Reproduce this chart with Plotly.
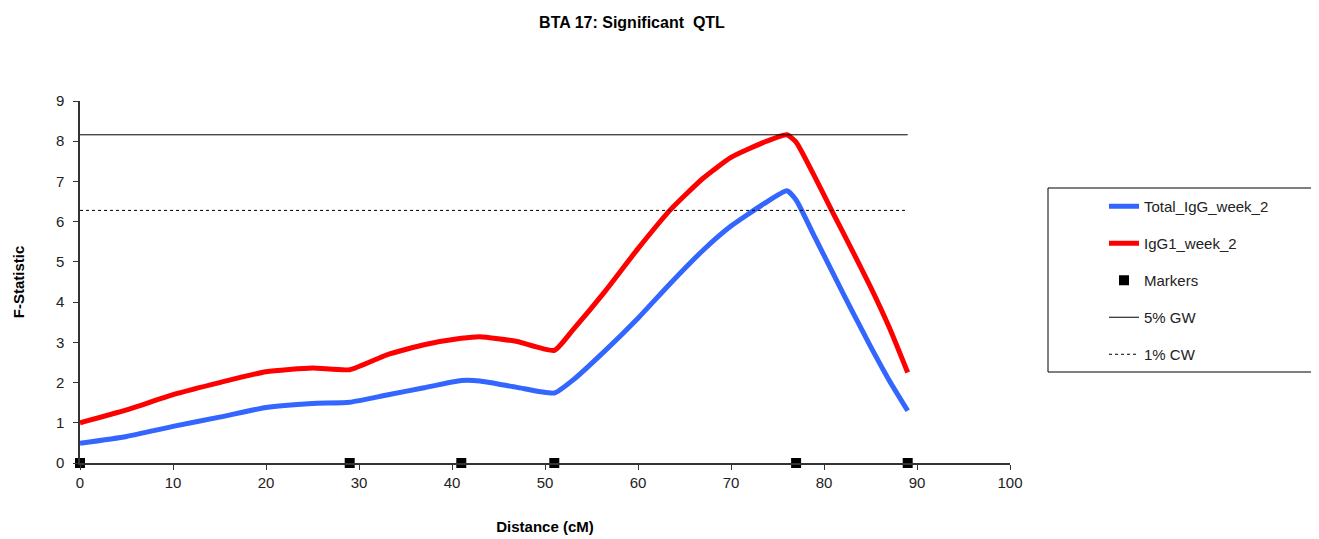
import plotly.graph_objects as go

# distance along BTA 17 (cM) at which the F-statistic profile was read
distance = [0, 5, 10, 15, 20, 25, 29, 33, 37, 41, 43, 47, 51, 53, 56.5, 60,
            63.5, 67, 70, 73.5, 76, 77, 79, 81, 83, 85, 87, 89]
total_igg_week_2 = [0.49, 0.66, 0.91, 1.14, 1.38, 1.48, 1.51, 1.69, 1.87, 2.05,
                    2.04, 1.88, 1.74, 2.06, 2.80, 3.60, 4.47, 5.29, 5.89, 6.44,
                    6.77, 6.54, 5.62, 4.70, 3.79, 2.90, 2.06, 1.30]
igg1_week_2 = [1.00, 1.32, 1.70, 2.00, 2.27, 2.36, 2.32, 2.69, 2.94, 3.10,
               3.14, 3.02, 2.80, 3.31, 4.28, 5.33, 6.30, 7.08, 7.60, 7.97,
               8.16, 7.98, 7.12, 6.20, 5.30, 4.38, 3.38, 2.25]

marker_pos = [0, 29, 41, 51, 77, 89]
marker_val = [0, 0, 0, 0, 0, 0]

threshold_x = [0, 89]
gw_5pct = [8.16, 8.16]
cw_1pct = [6.28, 6.28]

font = "Arial, Liberation Sans, sans-serif"
W, H = 1311, 531  # page body adds an 8px margin
L, R, T, B = 72, 309, 93, 76
pw, ph = W - L - R, H - T - B

fig = go.Figure()
fig.add_trace(go.Scatter(x=distance, y=total_igg_week_2, mode="lines",
                         name="Total_IgG_week_2", legendgroup="a",
                         line=dict(color="#3366ff", width=5,
                                   shape="spline", smoothing=0.5)))
fig.add_trace(go.Scatter(x=distance, y=igg1_week_2, mode="lines",
                         name="IgG1_week_2", legendgroup="b",
                         line=dict(color="#ff0000", width=5,
                                   shape="spline", smoothing=0.5)))
fig.add_trace(go.Scatter(x=marker_pos, y=marker_val, mode="markers",
                         name="Markers", legendgroup="c", cliponaxis=False,
                         marker=dict(symbol="square", size=10, color="black")))
fig.add_trace(go.Scatter(x=threshold_x, y=gw_5pct, mode="lines",
                         name="5% GW", legendgroup="d",
                         line=dict(color="black", width=1)))
fig.add_trace(go.Scatter(x=threshold_x, y=cw_1pct, mode="lines",
                         name="1% CW", legendgroup="e",
                         line=dict(color="black", width=1, dash="dot")))

# frame around the legend (plotly caps the legend box width)
fig.add_shape(type="rect", xref="paper", yref="paper",
              x0=(1040 - L) / pw, x1=(1307 - L) / pw,
              y0=(H - B - 364) / ph, y1=(H - B - 180) / ph,
              line=dict(color="black", width=1))

fig.update_layout(
    width=W, height=H,
    margin=dict(l=L, r=R, t=T, b=B),
    paper_bgcolor="white", plot_bgcolor="white",
    font=dict(family=font, size=15, color="#222"),
    title=dict(text="<b>BTA 17: Significant  QTL</b>", x=624 / W,
               xref="container", xanchor="center", y=1 - 14 / H,
               yref="container", yanchor="middle",
               font=dict(size=16, color="black")),
    legend=dict(xref="container", yref="container", x=1040 / W,
                y=1 - 182 / H, xanchor="left", yanchor="top",
                borderwidth=0, bgcolor="rgba(0,0,0,0)",
                tracegroupgap=14.5, indentation=56,
                font=dict(size=15, color="#222")),
    showlegend=True,
)
fig.update_xaxes(range=[0, 100], tickvals=list(range(0, 101, 10)),
                 automargin=False,
                 showgrid=False, zeroline=False, showline=True,
                 linecolor="#333", linewidth=1.5, ticks="outside",
                 ticklen=5, tickcolor="#333",
                 title=dict(text="<b>Distance (cM)</b>", standoff=32,
                            font=dict(size=15, color="black")))
fig.update_yaxes(range=[0, 9], tickvals=list(range(0, 10)),
                 automargin=False,
                 showgrid=False, zeroline=False, showline=True,
                 linecolor="#333", linewidth=1.5, ticks="outside",
                 ticklen=5, tickcolor="#333", ticklabelstandoff=6,
                 title=dict(text="<b>F-Statistic</b>", standoff=28,
                            font=dict(size=15, color="black")))

fig.write_html("out.html")
